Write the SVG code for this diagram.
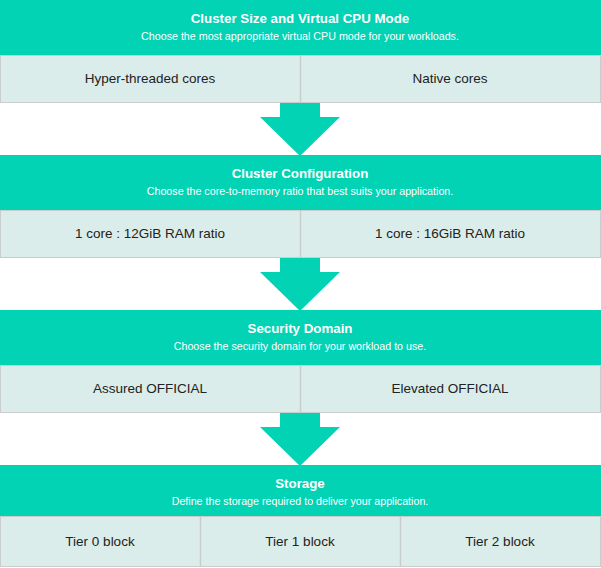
<svg xmlns="http://www.w3.org/2000/svg" width="601" height="568" viewBox="0 0 601 568">
<style>
.hd{fill:#02d3b4}
.row{fill:#daedea;stroke:#c9cdcc;stroke-width:1}
.div{stroke:#c9cdcc;stroke-width:1.5}
.t{font-family:"Liberation Sans",Arial,sans-serif;font-weight:bold;font-size:13.3px;fill:#fff;text-anchor:middle}
.s{font-family:"Liberation Sans",Arial,sans-serif;font-size:10.7px;fill:#fff;text-anchor:middle}
.c{font-family:"Liberation Sans",Arial,sans-serif;font-size:13.5px;fill:#222;text-anchor:middle}
.arr{fill:#02d3b4}
</style>
<rect width="601" height="568" fill="#fff"/>
<g id="connectors">
<polygon class="arr" points="280,102 320,102 320,117 340,117 300,156 260,117 280,117"/>
<polygon class="arr" points="280,257 320,257 320,272 340,272 300,311 260,272 280,272"/>
<polygon class="arr" points="280,412 320,412 320,427 340,427 300,466 260,427 280,427"/>
</g>
<g id="cpu-mode">
<rect class="hd" x="0" y="0" width="601" height="55"/>
<text class="t" x="300" y="23">Cluster Size and Virtual CPU Mode</text>
<text class="s" x="300" y="39.5">Choose the most appropriate virtual CPU mode for your workloads.</text>
<rect class="row" x="0.5" y="55.5" width="600" height="47"/>
<line class="div" x1="300.5" y1="55.5" x2="300.5" y2="102.5"/>
<text class="c" x="150" y="82.5">Hyper-threaded cores</text>
<text class="c" x="450" y="82.5">Native cores</text>
</g>
<g id="cluster-config">
<rect class="hd" x="0" y="155" width="601" height="55"/>
<text class="t" x="300" y="178">Cluster Configuration</text>
<text class="s" x="300" y="194.5">Choose the core-to-memory ratio that best suits your application.</text>
<rect class="row" x="0.5" y="210.5" width="600" height="47"/>
<line class="div" x1="300.5" y1="210.5" x2="300.5" y2="257.5"/>
<text class="c" x="150" y="237.5">1 core : 12GiB RAM ratio</text>
<text class="c" x="450" y="237.5">1 core : 16GiB RAM ratio</text>
</g>
<g id="security-domain">
<rect class="hd" x="0" y="310" width="601" height="55"/>
<text class="t" x="300" y="333">Security Domain</text>
<text class="s" x="300" y="349.5">Choose the security domain for your workload to use.</text>
<rect class="row" x="0.5" y="365.5" width="600" height="47"/>
<line class="div" x1="300.5" y1="365.5" x2="300.5" y2="412.5"/>
<text class="c" x="150" y="392.5">Assured OFFICIAL</text>
<text class="c" x="450" y="392.5">Elevated OFFICIAL</text>
</g>
<g id="storage">
<rect class="hd" x="0" y="465" width="601" height="51"/>
<text class="t" x="300" y="488">Storage</text>
<text class="s" x="300" y="505">Define the storage required to deliver your application.</text>
<rect class="row" x="0.5" y="516.5" width="600" height="50"/>
<line class="div" x1="200.5" y1="516.5" x2="200.5" y2="566.5"/>
<line class="div" x1="400.5" y1="516.5" x2="400.5" y2="566.5"/>
<text class="c" x="100" y="545.5">Tier 0 block</text>
<text class="c" x="300" y="545.5">Tier 1 block</text>
<text class="c" x="500" y="545.5">Tier 2 block</text>
</g>
</svg>
